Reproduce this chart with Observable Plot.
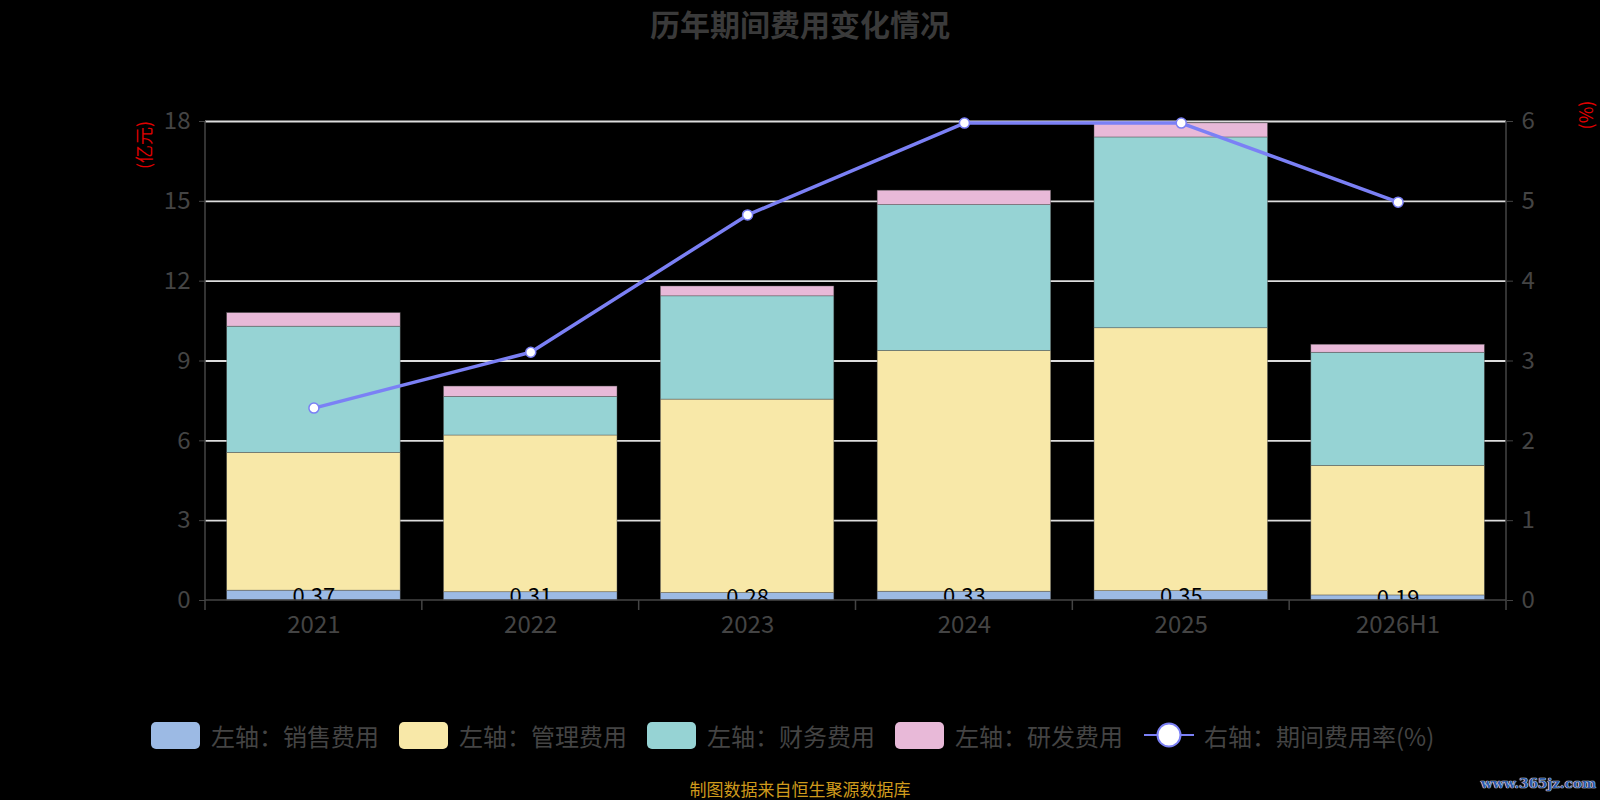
<!DOCTYPE html>
<html><head><meta charset="utf-8">
<script src="https://cdn.jsdelivr.net/npm/d3@7"></script>
<script src="https://cdn.jsdelivr.net/npm/@observablehq/plot@0.6"></script>
<style>
body{margin:0;background:#000;}
#wrap{position:relative;width:1600px;height:800px;background:#000;font-family:"Noto Sans CJK SC","Noto Sans",sans-serif;overflow:hidden}
#title{position:absolute;left:0;width:1600px;top:1px;text-align:center;font-size:30px;font-weight:bold;color:#3a3a3a;}
.axname{position:absolute;color:#e00000;font-size:18px;transform:translate(-50%,-50%) rotate(-90deg);white-space:nowrap;line-height:1;}
#legend{position:absolute;top:720px;left:0;height:30px;}
.li{position:absolute;top:0;height:30px;display:flex;align-items:center;}
.sw{width:49px;height:27px;border-radius:5px;margin-right:11px;}
.lt{font-size:24px;color:#444;white-space:nowrap;}
#caption{position:absolute;left:0;width:1600px;top:779px;text-align:center;font-size:17px;color:#cf9a1c;line-height:1.2;}
#wm{position:absolute;right:4px;top:775px;font-family:"DejaVu Serif",serif;font-weight:bold;font-size:13.5px;color:#2d5aa8;text-shadow:0 0 1px #fff,0 0 1px #fff,0 0 1px #fff;white-space:nowrap;}
</style></head><body><div id="wrap"></div>
<script>
const years = ["2021","2022","2023","2024","2025","2026H1"];
const seriesNames = ["左轴：销售费用","左轴：管理费用","左轴：财务费用","左轴：研发费用"];
const sales = [0.37,0.31,0.28,0.33,0.35,0.19];
const admin = [5.18,5.89,7.27,9.05,9.88,4.87];
const finance = [4.74,1.45,3.88,5.48,7.17,4.25];
const rnd = [0.51,0.39,0.37,0.54,0.53,0.30];
const rate = [2.41,3.11,4.83,5.98,5.98,4.99];
const lineName = "右轴：期间费用率(%)";
const leftTicks = [0,3,6,9,12,15,18];
const rightTicks = [0,1,2,3,4,5,6];
const colors = ["#9cbae4","#f8e8a8","#96d3d4","#e8b9d8"];
const lineColor = "#7b80f5";

const k = leftTicks[leftTicks.length-1] / rightTicks[rightTicks.length-1];
const seriesValues = [sales, admin, finance, rnd];
const stackData = [];
years.forEach((y,i) => seriesValues.forEach((arr,s) => stackData.push({year:y, series:seriesNames[s], v:arr[i]})));
const salesData = years.map((y,i)=>({year:y, v:sales[i]}));
const lineData = years.map((y,i)=>({year:y, rate:rate[i]}));

function axesFrame(index, scales, values, dims) {
  const {width, height, marginLeft, marginRight, marginTop, marginBottom} = dims;
  const x0 = marginLeft, x1 = width - marginRight, yb = height - marginBottom;
  const step = (x1 - x0) / years.length;
  const g = d3.create("svg:g").attr("stroke","#444").attr("stroke-width",1.5);
  g.append("line").attr("x1",x0).attr("x2",x0).attr("y1",marginTop).attr("y2",yb);
  g.append("line").attr("x1",x1).attr("x2",x1).attr("y1",marginTop).attr("y2",yb);
  g.append("line").attr("x1",x0).attr("x2",x1).attr("y1",yb).attr("y2",yb);
  for (let i = 0; i <= years.length; i++) {
    const xx = x0 + i*step;
    g.append("line").attr("x1",xx).attr("x2",xx).attr("y1",yb).attr("y2",yb+10);
  }
  return g.node();
}

const chart = Plot.plot({
  width: 1600, height: 800,
  marginTop: 121, marginBottom: 200, marginLeft: 205, marginRight: 94,
  style: {background:"transparent", fontFamily:"'Noto Sans CJK SC','Noto Sans',sans-serif"},
  x: {domain: years, paddingInner: 0.2, paddingOuter: 0.1, round: false, label: null},
  y: {domain: [0, 18], label: null},
  color: {domain: seriesNames, range: colors},
  marks: [
    Plot.gridY(leftTicks.slice(1), {stroke:"#dddddd", strokeOpacity:1, strokeWidth:1.8}),
    Plot.barY(stackData, Plot.stackY({x:"year", y:"v", fill:"series", stroke:"#555", strokeWidth:0.6, strokeOpacity:0.7, order:null})),
    Plot.text(salesData, {x:"year", y:d=>d.v/2, text:d=>d.v.toFixed(2), fill:"#000", fontSize:22, dy:1}),
    axesFrame,
    Plot.axisY({anchor:"left", ticks:leftTicks, tickSize:6, tickPadding:9, fontSize:24, color:"#444", label:null}),
    Plot.axisY({anchor:"right", ticks:leftTicks, tickFormat:d=>String(d/k), tickSize:6, tickPadding:9, fontSize:24, color:"#444", label:null}),
    Plot.axisX({anchor:"bottom", tickSize:0, tickPadding:15, fontSize:24, color:"#444", label:null}),
    Plot.line(lineData, {x:"year", y:d=>d.rate*k, stroke:lineColor, strokeWidth:3.5}),
    Plot.dot(lineData, {x:"year", y:d=>d.rate*k, r:5, fill:"#fff", stroke:lineColor, strokeWidth:1.5})
  ]
});

const wrap = document.getElementById("wrap");
wrap.appendChild(chart);
chart.style.position = "absolute"; chart.style.left = "0"; chart.style.top = "0";

const title = document.createElement("div"); title.id = "title"; title.textContent = "历年期间费用变化情况"; wrap.appendChild(title);
const an1 = document.createElement("div"); an1.className="axname"; an1.textContent="(亿元)"; an1.style.left="143px"; an1.style.top="145px"; wrap.appendChild(an1);
const an2 = document.createElement("div"); an2.className="axname"; an2.textContent="(%)"; an2.style.left="1585px"; an2.style.top="115px"; wrap.appendChild(an2);

const legend = document.createElement("div"); legend.id="legend"; wrap.appendChild(legend);
const legendX = [151, 399, 647, 895];
seriesNames.forEach((n,i)=>{
  const it = document.createElement("div"); it.className="li"; it.style.left = legendX[i]+"px";
  it.innerHTML = `<div class="sw" style="background:${colors[i]}"></div><span class="lt">${n}</span>`;
  legend.appendChild(it);
});
const lit = document.createElement("div"); lit.className="li"; lit.style.left="1144px";
lit.innerHTML = `<svg width="50" height="30" style="margin-right:10px"><line x1="0" x2="50" y1="15" y2="15" stroke="${lineColor}" stroke-width="2"/><circle cx="25" cy="15" r="11.5" fill="#fff" stroke="${lineColor}" stroke-width="2"/></svg><span class="lt">${lineName}</span>`;
legend.appendChild(lit);

const cap = document.createElement("div"); cap.id="caption"; cap.textContent="制图数据来自恒生聚源数据库"; wrap.appendChild(cap);
const wm = document.createElement("div"); wm.id="wm"; wm.textContent="www.365jz.com"; wrap.appendChild(wm);
</script>
</body></html>
